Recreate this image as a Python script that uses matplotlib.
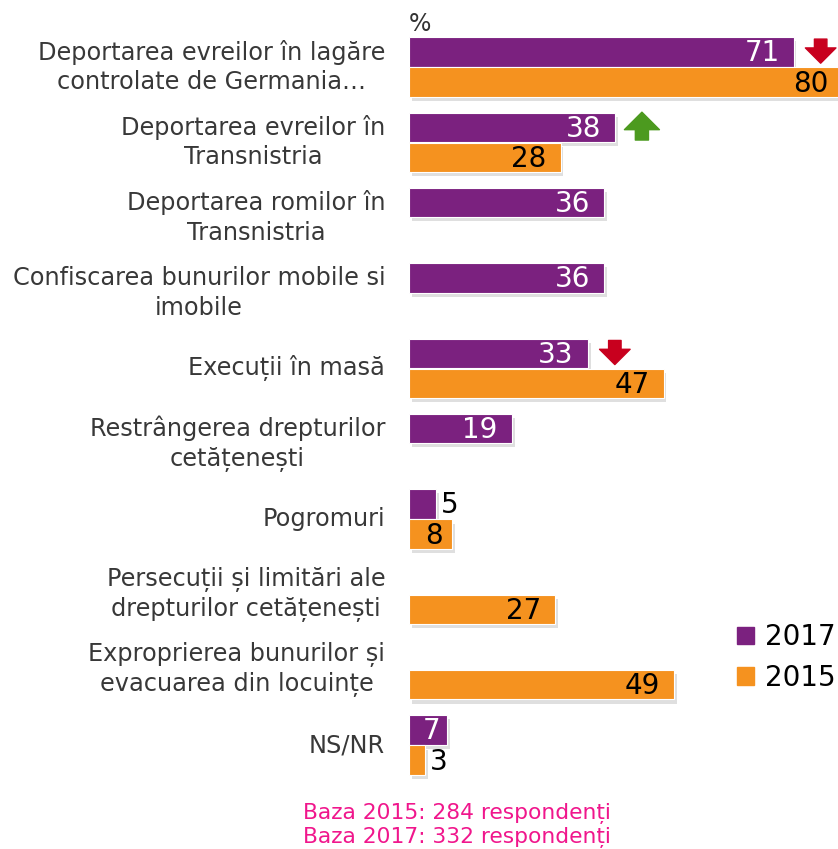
import matplotlib
matplotlib.use("Agg")
import matplotlib.pyplot as plt
import matplotlib.patheffects as pe
from matplotlib.patches import Patch

categories = [
    "Deportarea evreilor în lagăre\ncontrolate de Germania…",
    "Deportarea evreilor în\nTransnistria",
    "Deportarea romilor în\nTransnistria",
    "Confiscarea bunurilor mobile si\nimobile",
    "Execuții în masă",
    "Restrângerea drepturilor\ncetățenești",
    "Pogromuri",
    "Persecuții și limitări ale\ndrepturilor cetățenești",
    "Exproprierea bunurilor și\nevacuarea din locuințe",
    "NS/NR",
]
v2017 = [71, 38, 36, 36, 33, 19, 5, None, None, 7]
v2015 = [80, 28, None, None, 47, None, 8, 27, 49, 3]
# change markers next to 2017 bars: 'down' / 'up'
changes = {0: "down", 1: "up", 4: "down"}

purple = "#7B217F"
orange = "#F5921F"
red = "#C8001E"
green = "#4C9A1F"

fig = plt.figure(figsize=(8.38, 8.49), dpi=100)
ax = fig.add_axes([409 / 838, 1 - 782.7 / 849, 429 / 838, (782.7 - 29.3) / 849])
ax.set_xlim(0, 79.2)
ax.set_ylim(9.5, -0.5)

h = 0.39
shadow = [pe.SimplePatchShadow(offset=(2, -3), alpha=0.25, shadow_rgbFace="gray"), pe.Normal()]


def draw(vals, off, color, txtcolor):
    for i, v in enumerate(vals):
        if v is None:
            continue
        b = ax.barh(i + off, v, height=h, color=color, edgecolor="white", linewidth=0.8)
        b[0].set_path_effects(shadow)
        y = i + off + 0.02
        if v < 6:
            ax.text(v + 0.8, y, str(v), ha="left", va="center", fontsize=20, color="black")
        elif v < 10:
            ax.text(v / 2 + 0.6, y, str(v), ha="center", va="center", fontsize=20, color=txtcolor)
        else:
            ax.text(v - 2.6, y, str(v), ha="right", va="center", fontsize=20, color=txtcolor)


draw(v2017, -0.2, purple, "white")
draw(v2015, 0.2, orange, "black")

for i, d in changes.items():
    x = v2017[i] + 5
    y = i - 0.2
    if d == "down":
        ax.annotate("", xy=(x, y + 0.15), xytext=(x, y - 0.17), xycoords="data",
                    arrowprops=dict(arrowstyle="simple,head_width=1.1,head_length=0.55,tail_width=0.45",
                                    color=red, mutation_scale=20, shrinkA=0, shrinkB=0), annotation_clip=False)
    else:
        ax.annotate("", xy=(x, y - 0.2), xytext=(x, y + 0.17), xycoords="data",
                    arrowprops=dict(arrowstyle="simple,head_width=1.2,head_length=0.6,tail_width=0.45",
                                    color=green, mutation_scale=21, shrinkA=0, shrinkB=0), annotation_clip=False)

for i, c in enumerate(categories):
    ax.text(-4.4, i, c, ha="right", va="center", multialignment="center",
            fontsize=17.3, color="#383838", linespacing=1.28)

ax.text(0, -0.48, "%", ha="left", va="baseline", fontsize=17, color="#333333")

for s in ax.spines.values():
    s.set_visible(False)
ax.set_xticks([])
ax.set_yticks([])

handles = [Patch(color=purple, label="2017"), Patch(color=orange, label="2015")]
fig.legend(handles=handles, loc="upper right", bbox_to_anchor=(1.01, 1 - 612 / 849),
           frameon=False, fontsize=20, handlelength=0.6, handleheight=0.6,
           handletextpad=0.4, labelspacing=0.45, borderaxespad=0)

fig.text(0.545, 1 - 813 / 849, "Baza 2015: 284 respondenți", ha="center", va="center",
         fontsize=15.7, color="#F0168C")
fig.text(0.545, 1 - 838 / 849, "Baza 2017: 332 respondenți", ha="center", va="center",
         fontsize=15.7, color="#F0168C")

fig.savefig("out.png", dpi=100)
